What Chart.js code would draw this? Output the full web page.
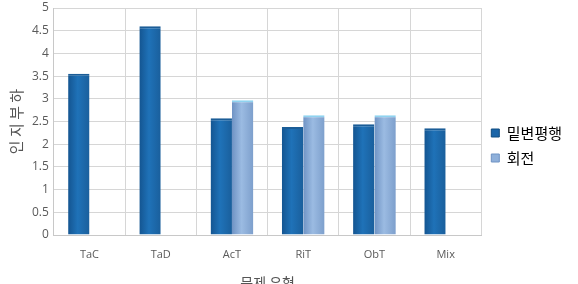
<!DOCTYPE html>
<html>
<head>
<meta charset="utf-8">
<script src="https://cdn.jsdelivr.net/npm/chart.js@4"></script>
<style>
  html, body { margin: 0; padding: 0; background: #fff; }
  #wrap { width: 578px; height: 284px; position: relative; }
</style>
</head>
<body>
<div id="wrap"><canvas id="chart"></canvas></div>
<script>
// Data
const categories = ['TaC', 'TaD', 'AcT', 'RiT', 'ObT', 'Mix'];
const seriesNames = ['밑변평행', '회전'];
const parallelValues = [3.55, 4.6, 2.57, 2.38, 2.44, 2.35];
const rotationValues = [null, null, 2.97, 2.64, 2.64, null];
const yTicks = [0, 0.5, 1, 1.5, 2, 2.5, 3, 3.5, 4, 4.5, 5];

const CAT_PCT = 0.6;

// Horizontal gradient so the bars look like the rounded 3D columns
function barGradient(ctx, dsIndex, dark, mid, light) {
    const chart = ctx.chart;
    const xScale = chart.scales && chart.scales.x;
    if (!chart.chartArea || !xScale || ctx.dataIndex === undefined) return mid;
    const catW = xScale.width / categories.length;
    const barW = catW * CAT_PCT / 2;
    const center = xScale.getPixelForValue(ctx.dataIndex);
    const left = center - barW + dsIndex * barW;
    const g = chart.ctx.createLinearGradient(left, 0, left + barW, 0);
    g.addColorStop(0, dark);
    g.addColorStop(0.45, mid);
    g.addColorStop(1, light);
    return g;
}

new Chart(document.getElementById('chart'), {
    type: 'bar',
    data: {
        labels: categories,
        datasets: [{
            label: seriesNames[0],
            data: parallelValues,
            backgroundColor: ctx => barGradient(ctx, 0, '#145591', '#1f72b8', '#1a5f9c'),
            borderColor: '#1b5d97',
            borderWidth: { top: 2, left: 0, right: 0, bottom: 0 },
            categoryPercentage: CAT_PCT,
            barPercentage: 1.0
        }, {
            label: seriesNames[1],
            data: rotationValues,
            backgroundColor: ctx => barGradient(ctx, 1, '#6f93c4', '#9bbbe2', '#7d9fcc'),
            borderColor: '#8fd3f0',
            borderWidth: { top: 2, left: 0, right: 0, bottom: 0 },
            categoryPercentage: CAT_PCT,
            barPercentage: 1.0
        }]
    },
    options: {
        responsive: true,
        maintainAspectRatio: false,
        animation: false,
        layout: { padding: { top: 0, right: 6, bottom: -7, left: 7 } },
        scales: {
            x: {
                grid: { color: '#d6d6d6', drawTicks: false, offset: true },
                border: { color: '#c8c8c8' },
                ticks: { color: '#5a5a5a', font: { family: 'Open Sans', size: 11 }, padding: 13 },
                title: {
                    display: true,
                    text: '문제 유형',
                    color: '#555',
                    font: { family: 'Noto Sans CJK KR', size: 14 },
                    padding: { top: 0, bottom: 0 }
                }
            },
            y: {
                min: 0,
                max: 5,
                afterBuildTicks: axis => { axis.ticks = yTicks.map(v => ({ value: v })); },
                afterFit: axis => { axis.paddingTop = 8; },
                grid: { color: '#d6d6d6', drawTicks: false },
                border: { color: '#c8c8c8' },
                ticks: {
                    color: '#5a5a5a',
                    font: { family: 'Open Sans', size: 12 },
                    padding: 5,
                    callback: v => String(v)
                },
                title: {
                    display: true,
                    text: '인 지 부 하',
                    color: '#555',
                    font: { family: 'Noto Sans CJK KR', size: 15 },
                    padding: { top: 0, bottom: 2 }
                }
            }
        },
        plugins: {
            legend: {
                position: 'right',
                align: 'center',
                labels: {
                    color: '#555',
                    font: { family: 'Noto Sans CJK KR', size: 15 },
                    boxWidth: 8,
                    boxHeight: 8,
                    padding: 10,
                    generateLabels: chart => seriesNames.map((name, i) => ({
                        text: name,
                        fillStyle: i === 0 ? '#1a65a8' : '#8fb0da',
                        strokeStyle: i === 0 ? '#0f4c80' : '#6f93c4',
                        lineWidth: 1,
                        datasetIndex: i
                    }))
                }
            },
            tooltip: { enabled: false }
        }
    }
});
</script>
</body>
</html>
